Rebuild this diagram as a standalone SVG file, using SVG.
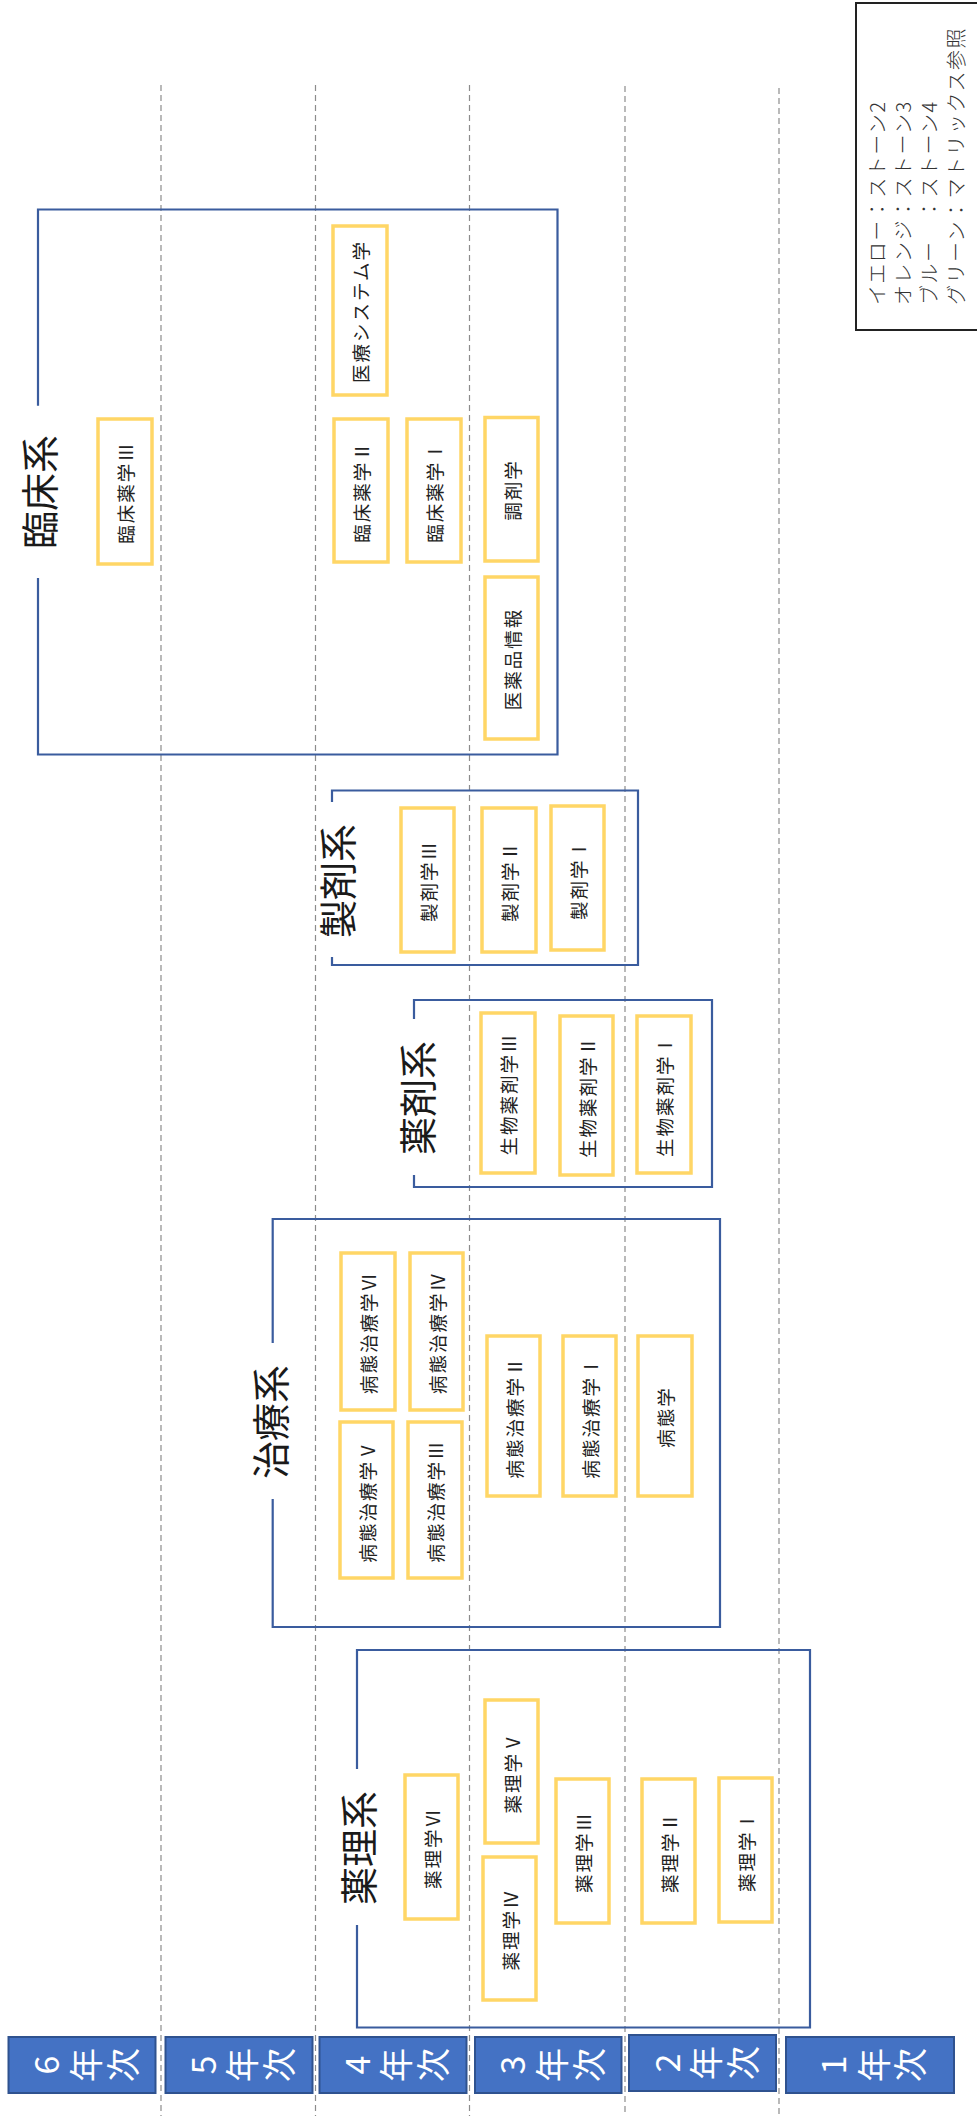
<svg xmlns="http://www.w3.org/2000/svg" width="977" height="2116" viewBox="0 0 977 2116">
<style>
text{font-family:"Noto Sans CJK JP","Noto Sans",sans-serif;}
.grid{stroke:#8c8c8c;stroke-width:1.2;stroke-dasharray:6 4;fill:none;}
.grp{fill:none;stroke:#3A5C9E;stroke-width:2.2;}
.ttl{font-size:38px;fill:#1a1a1a;text-anchor:middle;dominant-baseline:central;}
.crs rect{fill:#fff;stroke:#FFD666;stroke-width:3.5;}
.crs text{font-size:18.5px;letter-spacing:2px;fill:#222;text-anchor:middle;dominant-baseline:central;}
.yr rect{fill:#4472C4;stroke:#2F528F;stroke-width:2;}
.yr text{font-size:34px;fill:#fff;text-anchor:middle;dominant-baseline:central;}
.lg{font-size:20px;letter-spacing:1.5px;fill:#333;dominant-baseline:central;font-weight:300;}
</style>

<g id="grid">
<line class="grid" x1="161" y1="85" x2="161" y2="2116"/>
<line class="grid" x1="315.5" y1="85" x2="315.5" y2="2116"/>
<line class="grid" x1="469.5" y1="85" x2="469.5" y2="2116"/>
<line class="grid" x1="625" y1="86" x2="625" y2="2116"/>
<line class="grid" x1="779" y1="88" x2="779" y2="2116"/>
</g>

<g id="legend">
<rect x="856" y="3" width="130" height="327" fill="#fff" stroke="#222" stroke-width="2"/>
<text class="lg" x="876" y="305" transform="rotate(-90 876 305)">イエロー：ストーン2</text>
<text class="lg" x="902" y="305" transform="rotate(-90 902 305)">オレンジ：ストーン3</text>
<text class="lg" x="928" y="305" transform="rotate(-90 928 305)">ブルー　：ストーン4</text>
<text class="lg" x="955" y="305" transform="rotate(-90 955 305)">グリーン：マトリックス参照</text>
</g>

<!-- Group frames -->
<g id="g-rinsho">
<path class="grp" d="M38 405.7 V209.5 H557.5 V754.5 H38 V578"/>
<text class="ttl" x="37" y="492" transform="rotate(-90 37 492)">臨床系</text>
</g>
<g id="g-seizai">
<path class="grp" d="M332 802 V790.5 H638 V965 H332 V957"/>
<text class="ttl" x="335" y="881" transform="rotate(-90 335 881)">製剤系</text>
</g>
<g id="g-yakuzai">
<path class="grp" d="M414 1019 V1000 H712 V1187 H414 V1175"/>
<text class="ttl" x="415" y="1098" transform="rotate(-90 415 1098)">薬剤系</text>
</g>
<g id="g-chiryo">
<path class="grp" d="M272.7 1343 V1219 H720 V1627 H272.7 V1499"/>
<text class="ttl" x="268" y="1422" transform="rotate(-90 268 1422)">治療系</text>
</g>
<g id="g-yakuri">
<path class="grp" d="M357 1769 V1650 H810 V2027.5 H357 V1925"/>
<text class="ttl" x="356" y="1848" transform="rotate(-90 356 1848)">薬理系</text>
</g>

<!-- Courses -->
<g class="crs">
<g id="rinsho3"><rect x="98" y="419" width="54" height="145"/><text x="125" y="492.5" transform="rotate(-90 125 492.5)">臨床薬学Ⅲ</text></g>
<g id="iryo-system"><rect x="333" y="226" width="54" height="169"/><text x="360" y="311.5" transform="rotate(-90 360 311.5)">医療システム学</text></g>
<g id="rinsho2"><rect x="334" y="419" width="54" height="143"/><text x="361" y="491.5" transform="rotate(-90 361 491.5)">臨床薬学Ⅱ</text></g>
<g id="rinsho1"><rect x="407" y="419" width="54" height="143"/><text x="434" y="491.5" transform="rotate(-90 434 491.5)">臨床薬学Ⅰ</text></g>
<g id="chozai"><rect x="485" y="417.5" width="53" height="143.5"/><text x="511.5" y="490" transform="rotate(-90 511.5 490)">調剤学</text></g>
<g id="iyakuhin"><rect x="485" y="577" width="53" height="162"/><text x="511.5" y="659" transform="rotate(-90 511.5 659)">医薬品情報</text></g>

<g id="seizai3"><rect x="401" y="808" width="53" height="144"/><text x="427.5" y="881" transform="rotate(-90 427.5 881)">製剤学Ⅲ</text></g>
<g id="seizai2"><rect x="482" y="808" width="54" height="144"/><text x="509" y="881" transform="rotate(-90 509 881)">製剤学Ⅱ</text></g>
<g id="seizai1"><rect x="551" y="806" width="53" height="144"/><text x="577.5" y="879" transform="rotate(-90 577.5 879)">製剤学Ⅰ</text></g>

<g id="seibutsu3"><rect x="481" y="1013" width="54" height="160"/><text x="508" y="1094" transform="rotate(-90 508 1094)">生物薬剤学Ⅲ</text></g>
<g id="seibutsu2"><rect x="560" y="1016" width="53" height="159"/><text x="586.5" y="1096.5" transform="rotate(-90 586.5 1096.5)">生物薬剤学Ⅱ</text></g>
<g id="seibutsu1"><rect x="637" y="1016" width="54" height="157"/><text x="664" y="1095.5" transform="rotate(-90 664 1095.5)">生物薬剤学Ⅰ</text></g>

<g id="byotai6"><rect x="341" y="1253" width="54" height="157"/><text x="368" y="1332.5" transform="rotate(-90 368 1332.5)">病態治療学Ⅵ</text></g>
<g id="byotai5"><rect x="340" y="1422" width="53" height="156"/><text x="366.5" y="1501" transform="rotate(-90 366.5 1501)">病態治療学Ⅴ</text></g>
<g id="byotai4"><rect x="410" y="1253" width="53" height="157"/><text x="436.5" y="1332.5" transform="rotate(-90 436.5 1332.5)">病態治療学Ⅳ</text></g>
<g id="byotai3"><rect x="408" y="1422" width="54" height="156"/><text x="435" y="1501" transform="rotate(-90 435 1501)">病態治療学Ⅲ</text></g>
<g id="byotai2"><rect x="487" y="1336" width="53" height="160"/><text x="513.5" y="1417" transform="rotate(-90 513.5 1417)">病態治療学Ⅱ</text></g>
<g id="byotai1"><rect x="563" y="1336" width="53" height="160"/><text x="589.5" y="1417" transform="rotate(-90 589.5 1417)">病態治療学Ⅰ</text></g>
<g id="byotaigaku"><rect x="638" y="1336" width="54" height="160"/><text x="665" y="1417" transform="rotate(-90 665 1417)">病態学</text></g>

<g id="yakuri6"><rect x="405" y="1775" width="53" height="144"/><text x="431.5" y="1848" transform="rotate(-90 431.5 1848)">薬理学Ⅵ</text></g>
<g id="yakuri5"><rect x="485" y="1700" width="53" height="143"/><text x="511.5" y="1772.5" transform="rotate(-90 511.5 1772.5)">薬理学Ⅴ</text></g>
<g id="yakuri4"><rect x="483" y="1857" width="53" height="143"/><text x="509.5" y="1929.5" transform="rotate(-90 509.5 1929.5)">薬理学Ⅳ</text></g>
<g id="yakuri3"><rect x="556" y="1779" width="53" height="144"/><text x="582.5" y="1852" transform="rotate(-90 582.5 1852)">薬理学Ⅲ</text></g>
<g id="yakuri2"><rect x="642" y="1779" width="53" height="144"/><text x="668.5" y="1852" transform="rotate(-90 668.5 1852)">薬理学Ⅱ</text></g>
<g id="yakuri1"><rect x="719" y="1778" width="53" height="144"/><text x="745.5" y="1851" transform="rotate(-90 745.5 1851)">薬理学Ⅰ</text></g>
</g>

<!-- Year labels -->
<g class="yr">
<g id="year6"><rect x="8.5" y="2037" width="147" height="56"/>
<text x="44" y="2065" transform="rotate(-90 44 2065)">6</text>
<text x="84" y="2065" transform="rotate(-90 84 2065)">年</text>
<text x="121" y="2065" transform="rotate(-90 121 2065)">次</text></g>
<g id="year5"><rect x="165.5" y="2037" width="147" height="56"/>
<text x="201" y="2065" transform="rotate(-90 201 2065)">5</text>
<text x="240" y="2065" transform="rotate(-90 240 2065)">年</text>
<text x="277" y="2065" transform="rotate(-90 277 2065)">次</text></g>
<g id="year4"><rect x="319.5" y="2037" width="147" height="56"/>
<text x="355" y="2065" transform="rotate(-90 355 2065)">4</text>
<text x="394" y="2065" transform="rotate(-90 394 2065)">年</text>
<text x="431" y="2065" transform="rotate(-90 431 2065)">次</text></g>
<g id="year3"><rect x="475" y="2037" width="146.5" height="56"/>
<text x="510" y="2065" transform="rotate(-90 510 2065)">3</text>
<text x="550" y="2065" transform="rotate(-90 550 2065)">年</text>
<text x="587" y="2065" transform="rotate(-90 587 2065)">次</text></g>
<g id="year2"><rect x="629" y="2035" width="147" height="56"/>
<text x="665" y="2063" transform="rotate(-90 665 2063)">2</text>
<text x="704" y="2063" transform="rotate(-90 704 2063)">年</text>
<text x="741" y="2063" transform="rotate(-90 741 2063)">次</text></g>
<g id="year1"><rect x="786" y="2037" width="168" height="56"/>
<text x="831" y="2065" transform="rotate(-90 831 2065)">1</text>
<text x="872" y="2065" transform="rotate(-90 872 2065)">年</text>
<text x="908" y="2065" transform="rotate(-90 908 2065)">次</text></g>
</g>
</svg>
